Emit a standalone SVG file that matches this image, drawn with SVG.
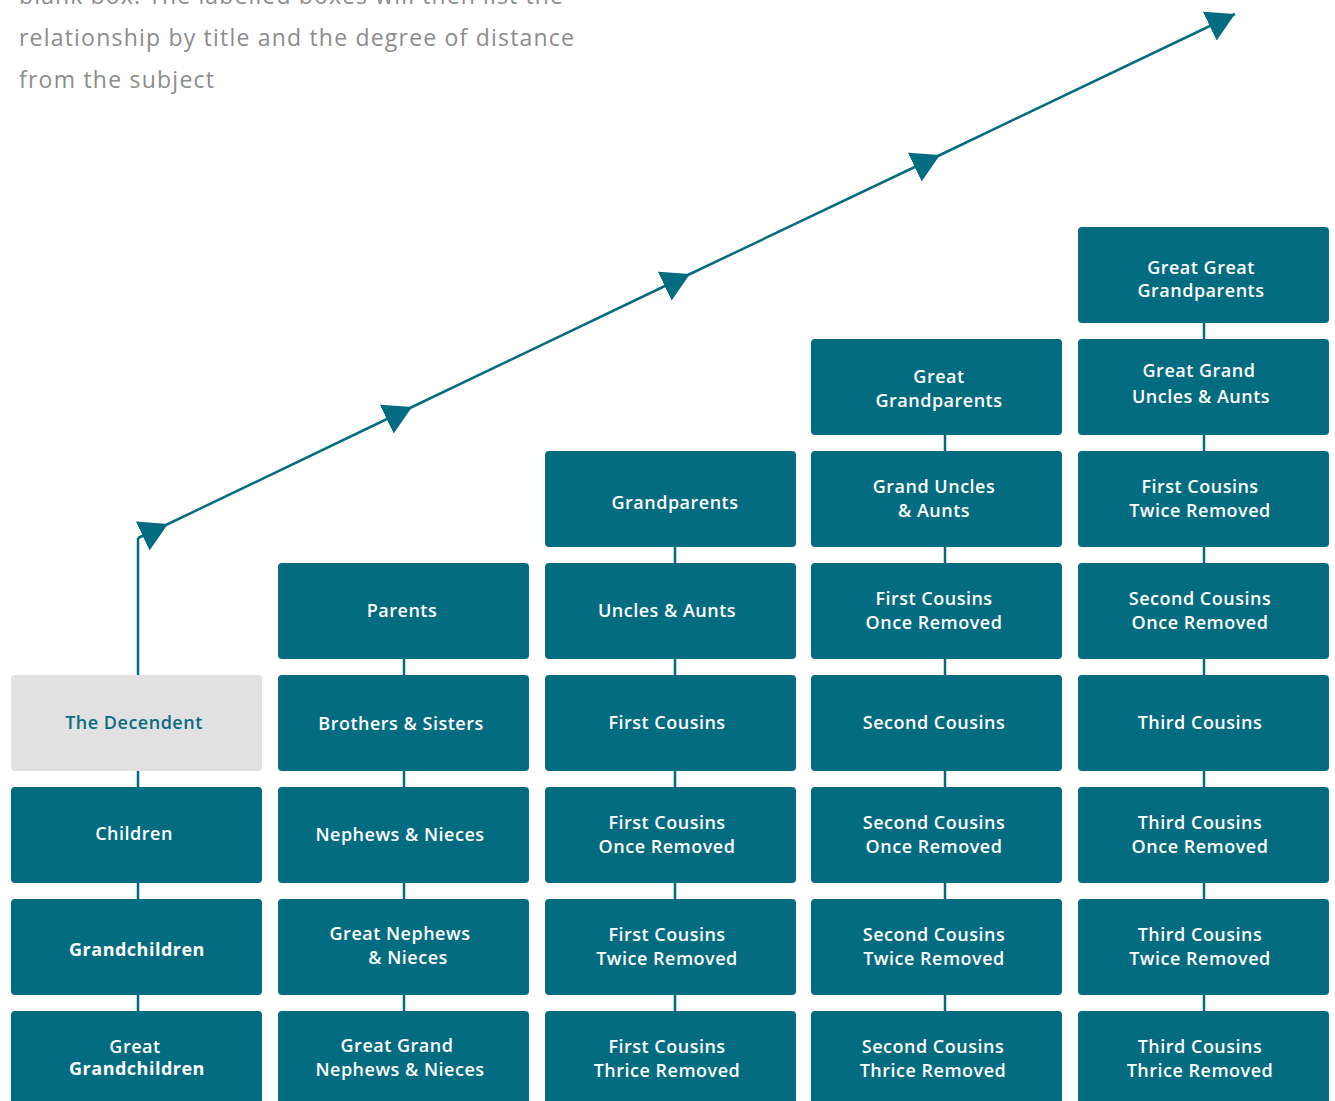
<svg xmlns="http://www.w3.org/2000/svg" width="1335" height="1101" viewBox="0 0 1335 1101">
<defs>
<style>
.box{fill:#036c81}
.me{fill:#e1e1e1}
.t{font-family:"Open Sans","Liberation Sans",sans-serif;font-size:18px;font-weight:600;fill:#ffffff;text-anchor:middle;letter-spacing:0.5px}
.tb{font-weight:700}
.tm{fill:#0b6c80}
.hdr{font-family:"Open Sans","Liberation Sans",sans-serif;font-size:23px;fill:#8c8c8c}
.link{stroke:#036c81;stroke-width:2.5;fill:none}
.arrow{stroke:#036c81;stroke-width:2.5;fill:none}
</style>
<marker id="ah" markerUnits="userSpaceOnUse" viewBox="-28 -16 28 32" refX="0" refY="0" markerWidth="28" markerHeight="32" orient="auto">
<path d="M0,0 L-28,-16 L-28,16 Z" fill="#036c81"/>
</marker>
</defs>
<rect width="1335" height="1101" fill="#ffffff"/>

<g id="intro">
<text class="hdr" x="19" y="4" textLength="544" lengthAdjust="spacing">blank box. The labelled boxes will then list the</text>
<text class="hdr" x="19" y="46" textLength="555" lengthAdjust="spacing">relationship by title and the degree of distance</text>
<text class="hdr" x="19" y="88" textLength="195" lengthAdjust="spacing">from the subject</text>
</g>

<g id="connectors">
<path class="link" d="M138,771V787M138,883V899M138,995V1011"/>
<path class="link" d="M404,659V675M404,771V787M404,883V899M404,995V1011"/>
<path class="link" d="M675,547V563M675,659V675M675,771V787M675,883V899M675,995V1011"/>
<path class="link" d="M945,435V451M945,547V563M945,659V675M945,771V787M945,883V899M945,995V1011"/>
<path class="link" d="M1204,323V339M1204,435V451M1204,547V563M1204,659V675M1204,771V787M1204,883V899M1204,995V1011"/>
<path class="arrow" d="M138,675V538"/>
<path class="arrow" d="M138,538L168,524L412,407L690,274L940,155L1235,14" marker-mid="url(#ah)" marker-end="url(#ah)"/>
</g>

<!-- Column 1 -->
<g id="n-decendent"><rect class="me" x="11" y="675" width="251" height="96" rx="4"/><text class="t tm" x="134" y="729">The Decendent</text></g>
<g id="n-children"><rect class="box" x="11" y="787" width="251" height="96" rx="4"/><text class="t" x="134" y="840">Children</text></g>
<g id="n-grandchildren"><rect class="box" x="11" y="899" width="251" height="96" rx="4"/><text class="t tb" x="137" y="956">Grandchildren</text></g>
<g id="n-greatgrandchildren"><rect class="box" x="11" y="1011" width="251" height="96" rx="4"/><text class="t" x="135" y="1053">Great</text><text class="t tb" x="137" y="1075">Grandchildren</text></g>

<!-- Column 2 -->
<g id="n-parents"><rect class="box" x="278" y="563" width="251" height="96" rx="4"/><text class="t" x="402" y="617">Parents</text></g>
<g id="n-siblings"><rect class="box" x="278" y="675" width="251" height="96" rx="4"/><text class="t" x="401" y="730">Brothers &amp; Sisters</text></g>
<g id="n-nephews"><rect class="box" x="278" y="787" width="251" height="96" rx="4"/><text class="t" x="400" y="841">Nephews &amp; Nieces</text></g>
<g id="n-greatnephews"><rect class="box" x="278" y="899" width="251" height="96" rx="4"/><text class="t" x="400" y="940">Great Nephews</text><text class="t" x="408" y="964">&amp; Nieces</text></g>
<g id="n-greatgrandnephews"><rect class="box" x="278" y="1011" width="251" height="96" rx="4"/><text class="t" x="397" y="1052">Great Grand</text><text class="t" x="400" y="1076">Nephews &amp; Nieces</text></g>

<!-- Column 3 -->
<g id="n-grandparents"><rect class="box" x="545" y="451" width="251" height="96" rx="4"/><text class="t" x="675" y="509">Grandparents</text></g>
<g id="n-uncles"><rect class="box" x="545" y="563" width="251" height="96" rx="4"/><text class="t" x="667" y="617">Uncles &amp; Aunts</text></g>
<g id="n-firstcousins"><rect class="box" x="545" y="675" width="251" height="96" rx="4"/><text class="t" x="667" y="729">First Cousins</text></g>
<g id="n-fc1r-a"><rect class="box" x="545" y="787" width="251" height="96" rx="4"/><text class="t" x="667" y="829">First Cousins</text><text class="t" x="667" y="853">Once Removed</text></g>
<g id="n-fc2r-a"><rect class="box" x="545" y="899" width="251" height="96" rx="4"/><text class="t" x="667" y="941">First Cousins</text><text class="t" x="667" y="965">Twice Removed</text></g>
<g id="n-fc3r"><rect class="box" x="545" y="1011" width="251" height="96" rx="4"/><text class="t" x="667" y="1053">First Cousins</text><text class="t" x="667" y="1077">Thrice Removed</text></g>

<!-- Column 4 -->
<g id="n-greatgrandparents"><rect class="box" x="811" y="339" width="251" height="96" rx="4"/><text class="t" x="939" y="383">Great</text><text class="t" x="939" y="407">Grandparents</text></g>
<g id="n-granduncles"><rect class="box" x="811" y="451" width="251" height="96" rx="4"/><text class="t" x="934" y="493">Grand Uncles</text><text class="t" x="934" y="517">&amp; Aunts</text></g>
<g id="n-fc1r-b"><rect class="box" x="811" y="563" width="251" height="96" rx="4"/><text class="t" x="934" y="605">First Cousins</text><text class="t" x="934" y="629">Once Removed</text></g>
<g id="n-secondcousins"><rect class="box" x="811" y="675" width="251" height="96" rx="4"/><text class="t" x="934" y="729">Second Cousins</text></g>
<g id="n-sc1r-a"><rect class="box" x="811" y="787" width="251" height="96" rx="4"/><text class="t" x="934" y="829">Second Cousins</text><text class="t" x="934" y="853">Once Removed</text></g>
<g id="n-sc2r"><rect class="box" x="811" y="899" width="251" height="96" rx="4"/><text class="t" x="934" y="941">Second Cousins</text><text class="t" x="934" y="965">Twice Removed</text></g>
<g id="n-sc3r"><rect class="box" x="811" y="1011" width="251" height="96" rx="4"/><text class="t" x="933" y="1053">Second Cousins</text><text class="t" x="933" y="1077">Thrice Removed</text></g>

<!-- Column 5 -->
<g id="n-greatgreatgrandparents"><rect class="box" x="1078" y="227" width="251" height="96" rx="4"/><text class="t" x="1201" y="274">Great Great</text><text class="t" x="1201" y="297">Grandparents</text></g>
<g id="n-greatgranduncles"><rect class="box" x="1078" y="339" width="251" height="96" rx="4"/><text class="t" x="1199" y="377">Great Grand</text><text class="t" x="1201" y="403">Uncles &amp; Aunts</text></g>
<g id="n-fc2r-b"><rect class="box" x="1078" y="451" width="251" height="96" rx="4"/><text class="t" x="1200" y="493">First Cousins</text><text class="t" x="1200" y="517">Twice Removed</text></g>
<g id="n-sc1r-b"><rect class="box" x="1078" y="563" width="251" height="96" rx="4"/><text class="t" x="1200" y="605">Second Cousins</text><text class="t" x="1200" y="629">Once Removed</text></g>
<g id="n-thirdcousins"><rect class="box" x="1078" y="675" width="251" height="96" rx="4"/><text class="t" x="1200" y="729">Third Cousins</text></g>
<g id="n-tc1r"><rect class="box" x="1078" y="787" width="251" height="96" rx="4"/><text class="t" x="1200" y="829">Third Cousins</text><text class="t" x="1200" y="853">Once Removed</text></g>
<g id="n-tc2r"><rect class="box" x="1078" y="899" width="251" height="96" rx="4"/><text class="t" x="1200" y="941">Third Cousins</text><text class="t" x="1200" y="965">Twice Removed</text></g>
<g id="n-tc3r"><rect class="box" x="1078" y="1011" width="251" height="96" rx="4"/><text class="t" x="1200" y="1053">Third Cousins</text><text class="t" x="1200" y="1077">Thrice Removed</text></g>
</svg>
